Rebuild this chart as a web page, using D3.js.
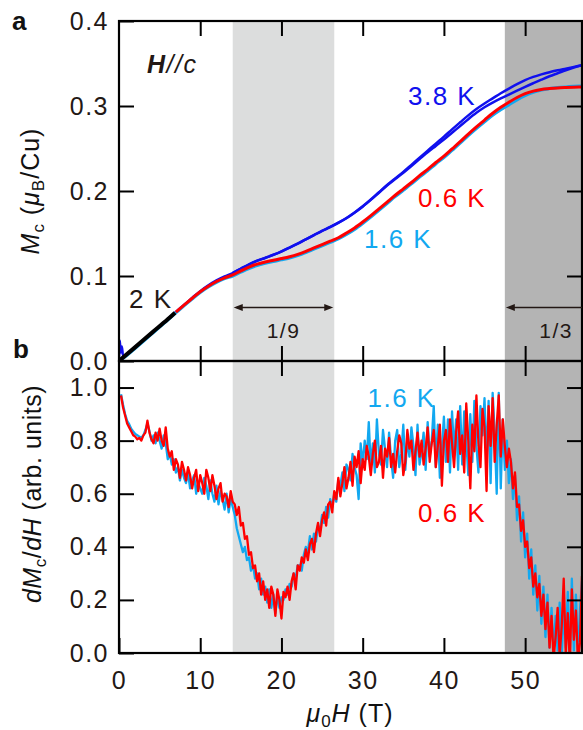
<!DOCTYPE html>
<html><head><meta charset="utf-8">
<script src="https://cdn.jsdelivr.net/npm/d3@7"></script>
<style>
body{margin:0;background:#fff}
svg text{font-family:"Liberation Sans",Arial,Helvetica,sans-serif;fill:#231815}
</style>
</head><body><svg id="c" width="583" height="730"></svg>
<script>
// ---------- data ----------
const xTicks = [0, 10, 20, 30, 40, 50];
const yTicksA = [0, 0.1, 0.2, 0.3, 0.4];
const yTicksB = [0, 0.2, 0.4, 0.6, 0.8, 1.0];
const bandLight = [14, 26.5];   // 1/9 plateau
const bandDark = [47.5, 57];    // 1/3 plateau

// panel a : M (muB/Cu) vs field (T)
const m2K = [[0,0],[2,0.0163],[4,0.0328],[6,0.0490],[6.9,0.0568]];
const m06K = [[7,0.0576],[8,0.0657],[9,0.0738],[10,0.0815],[11,0.0880],[12,0.0935],[13,0.0978],[14,0.1012],[15,0.1060],[16,0.1105],[17,0.1140],[18,0.1165],[19,0.1185],[20,0.1205],[21,0.1227],[22,0.1255],[23,0.1290],[24,0.1330],[25,0.1370],[26,0.1410],[27,0.1450],[28,0.1505],[29,0.1565],[30,0.1635],[31,0.1710],[32,0.1790],[33,0.1870],[34,0.1950],[35,0.2025],[36,0.2100],[37,0.2180],[38,0.2255],[39,0.2335],[40,0.2410],[41,0.2495],[42,0.2580],[43,0.2670],[44,0.2755],[45,0.2835],[46,0.2915],[47,0.2985],[48,0.3045],[49,0.3100],[50,0.3145],[51,0.3175],[52,0.3195],[53,0.3205],[54,0.3213],[55,0.3218],[56,0.3222],[57,0.3225]];
const m16K = [[0,0],[1,0.0068],[2,0.0150],[3,0.0232],[4,0.0315],[5,0.0398],[6,0.0482],[7,0.0565],[8,0.0648],[9,0.0728],[10,0.0805],[11,0.0870],[12,0.0925],[13,0.0968],[14,0.1000],[15,0.1045],[16,0.1088],[17,0.1122],[18,0.1148],[19,0.1170],[20,0.1190],[21,0.1212],[22,0.1240],[23,0.1275],[24,0.1315],[25,0.1355],[26,0.1395],[27,0.1435],[28,0.1488],[29,0.1548],[30,0.1618],[31,0.1693],[32,0.1773],[33,0.1853],[34,0.1933],[35,0.2008],[36,0.2083],[37,0.2163],[38,0.2238],[39,0.2318],[40,0.2393],[41,0.2478],[42,0.2563],[43,0.2652],[44,0.2735],[45,0.2813],[46,0.2890],[47,0.2955],[48,0.3013],[49,0.3072],[50,0.3122],[51,0.3160],[52,0.3188],[53,0.3205],[54,0.3217],[55,0.3225],[56,0.3231],[57,0.3236]];
const m38Kup = [[0,0],[0.1,0.024],[0.2,0.010],[0.35,0.017],[0.5,0.006],[1,0.0085],[2,0.0165],[3,0.0245],[4,0.0328],[5,0.0410],[6,0.0493],[7,0.0578],[8,0.0660],[9,0.0742],[10,0.0822],[11,0.0890],[12,0.0948],[13,0.0995],[14,0.1035],[15,0.1085],[16,0.1135],[17,0.1178],[18,0.1212],[19,0.1248],[20,0.1288],[21,0.1333],[22,0.1380],[23,0.1430],[24,0.1480],[25,0.1530],[26,0.1575],[27,0.1625],[28,0.1680],[29,0.1745],[30,0.1815],[31,0.1895],[32,0.1980],[33,0.2065],[34,0.2140],[35,0.2215],[36,0.2295],[37,0.2375],[38,0.2455],[39,0.2530],[40,0.2605],[41,0.2685],[42,0.2765],[43,0.2845],[44,0.2920],[45,0.2985],[46,0.3040],[47,0.3090],[48,0.3135],[49,0.3180],[50,0.3225],[51,0.3268],[52,0.3310],[53,0.3350],[54,0.3385],[55,0.3420],[56,0.3452],[57,0.3480]];
const m38Kdown = [[14,0.1037],[15,0.1087],[16,0.1137],[17,0.1180],[18,0.1214],[19,0.1250],[20,0.1290],[21,0.1335],[22,0.1382],[23,0.1432],[24,0.1482],[25,0.1532],[26,0.1578],[27,0.1628],[28,0.1683],[29,0.1748],[30,0.1820],[31,0.1900],[32,0.1985],[33,0.2070],[34,0.2148],[35,0.2225],[36,0.2308],[37,0.2392],[38,0.2475],[39,0.2558],[40,0.2640],[41,0.2725],[42,0.2808],[43,0.2890],[44,0.2965],[45,0.3030],[46,0.3090],[47,0.3150],[48,0.3205],[49,0.3258],[50,0.3305],[51,0.3342],[52,0.3372],[53,0.3398],[54,0.3420],[55,0.3440],[56,0.3460],[57,0.3480]];

// panel b : dM/dH (arb. units), sampled every 0.25 T from 0.25 T to 57 T (one group of four per tesla)
const fieldStepB = 0.25;
const dmdh06K = [
 0.97,0.925,0.895,0.865, 0.85,0.835,0.82,0.815, 0.805,0.81,0.80,0.82, 0.83,0.875,0.83,0.805,
 0.79,0.83,0.80,0.845, 0.80,0.78,0.85,0.77, 0.74,0.76,0.69,0.73, 0.71,0.66,0.72,0.69,
 0.65,0.70,0.67,0.62, 0.66,0.69,0.61,0.67, 0.64,0.60,0.69,0.66, 0.61,0.67,0.63,0.58,
 0.62,0.64,0.57,0.60, 0.59,0.55,0.61,0.57, 0.56,0.52,0.55,0.48, 0.49,0.43,0.44,0.37,
 0.38,0.32,0.33,0.27, 0.30,0.22,0.27,0.20, 0.24,0.17,0.25,0.22, 0.14,0.24,0.20,0.13,
 0.23,0.21,0.25,0.20, 0.27,0.30,0.24,0.33, 0.31,0.36,0.34,0.39, 0.35,0.41,0.43,0.38,
 0.45,0.49,0.44,0.50, 0.53,0.48,0.56,0.57, 0.53,0.61,0.58,0.66, 0.59,0.64,0.70,0.62,
 0.66,0.72,0.63,0.74, 0.70,0.76,0.64,0.73, 0.69,0.78,0.74,0.67, 0.75,0.80,0.70,0.72,
 0.78,0.66,0.77,0.74, 0.81,0.70,0.75,0.68, 0.76,0.82,0.79,0.67, 0.72,0.84,0.77,0.80,
 0.69,0.76,0.83,0.74, 0.80,0.71,0.77,0.85, 0.72,0.79,0.84,0.70, 0.78,0.86,0.63,0.80,
 0.84,0.72,0.88,0.79, 0.70,0.83,0.91,0.75, 0.82,0.68,0.94,0.80, 0.62,0.86,0.76,0.97,
 0.79,0.70,0.92,0.85, 0.61,0.93,0.78,0.96, 0.72,0.86,0.97,0.74, 0.88,0.78,0.70,0.77,
 0.72,0.62,0.68,0.55, 0.56,0.46,0.50,0.40, 0.42,0.32,0.36,0.25, 0.30,0.21,0.26,0.14,
 0.22,0.09,0.19,0.02, 0.14,-0.02,0.06,0.17, -0.01,0.10,0.28,0.00, 0.15,-0.04,0.24,0.05,
 0.16,-0.03,0.04,0.29
];
const dmdh16K = [
 0.975,0.935,0.90,0.875, 0.862,0.845,0.835,0.825, 0.82,0.815,0.812,0.82, 0.84,0.865,0.835,0.80,
 0.82,0.79,0.83,0.80, 0.77,0.82,0.79,0.73, 0.75,0.71,0.73,0.68, 0.70,0.65,0.69,0.66,
 0.64,0.68,0.62,0.65, 0.67,0.60,0.64,0.62, 0.60,0.66,0.63,0.58, 0.65,0.60,0.57,0.63,
 0.56,0.61,0.58,0.54, 0.60,0.53,0.58,0.55, 0.52,0.47,0.44,0.41, 0.38,0.40,0.35,0.36,
 0.31,0.33,0.28,0.30, 0.24,0.28,0.22,0.25, 0.19,0.24,0.17,0.22, 0.15,0.22,0.17,0.21,
 0.20,0.24,0.22,0.26, 0.25,0.30,0.28,0.33, 0.33,0.31,0.37,0.40, 0.38,0.44,0.39,0.45,
 0.42,0.48,0.46,0.52, 0.49,0.55,0.51,0.58, 0.55,0.60,0.57,0.65, 0.63,0.68,0.61,0.71,
 0.69,0.65,0.75,0.70, 0.67,0.58,0.79,0.71, 0.80,0.73,0.87,0.70, 0.79,0.68,0.88,0.75,
 0.71,0.84,0.77,0.70, 0.83,0.73,0.66,0.80, 0.84,0.70,0.75,0.86, 0.69,0.81,0.74,0.85,
 0.78,0.67,0.86,0.71, 0.76,0.83,0.69,0.87, 0.74,0.80,0.93,0.70, 0.86,0.66,0.77,0.89,
 0.72,0.88,0.68,0.91, 0.76,0.88,0.69,0.93, 0.71,0.91,0.80,0.67, 0.90,0.72,0.95,0.78,
 0.68,0.93,0.82,0.96, 0.72,0.95,0.64,0.98, 0.83,0.60,0.98,0.62, 0.88,0.69,0.80,0.64,
 0.73,0.58,0.67,0.50, 0.59,0.42,0.53,0.36, 0.45,0.28,0.39,0.22, 0.33,0.16,0.29,0.11,
 0.25,0.06,0.22,0.02, 0.17,0.00,0.14,0.01, 0.19,-0.01,0.16,0.02, 0.23,-0.02,0.28,0.01,
 0.22,-0.01,0.16,0.27
];

// ---------- drawing ----------
const C = {blue:"#1010ee", cyan:"#12a8f0", red:"#ff0000", ink:"#231815", light:"#dcdddd", dark:"#b4b4b4"};
const L = 119, R = 582, TOPA = 21, BOTA = 361, BOTB = 653;
const svg = d3.select("#c");
const x = d3.scaleLinear().domain([0, 57]).range([L, R]);
const yA = d3.scaleLinear().domain([0, 0.4]).range([BOTA, TOPA]);
const yB = d3.scaleLinear().domain([0, 1.1]).range([BOTB, BOTA]);

// shaded field regions
svg.append("rect").attr("x", x(bandLight[0])).attr("y", TOPA)
  .attr("width", x(bandLight[1]) - x(bandLight[0])).attr("height", BOTB - TOPA).attr("fill", C.light);
svg.append("rect").attr("x", x(bandDark[0])).attr("y", TOPA)
  .attr("width", x(bandDark[1]) - x(bandDark[0])).attr("height", BOTB - TOPA).attr("fill", C.dark);

const defs = svg.append("defs");
defs.append("clipPath").attr("id", "clipA").append("rect")
  .attr("x", L).attr("y", TOPA).attr("width", R - L).attr("height", BOTA - TOPA);
defs.append("clipPath").attr("id", "clipB").append("rect")
  .attr("x", L).attr("y", BOTA).attr("width", R - L).attr("height", BOTB - BOTA);

// panel a curves
const lineA = d3.line().x(d => x(d[0])).y(d => yA(d[1])).curve(d3.curveMonotoneX);
const gA = svg.append("g").attr("clip-path", "url(#clipA)");
[[m38Kup, C.blue, 2.5], [m38Kdown, C.blue, 2.5], [m16K, C.cyan, 3], [m06K, C.red, 3], [m2K, "#000", 4]]
  .forEach(([d, col, w]) => gA.append("path").datum(d).attr("d", lineA)
    .attr("fill", "none").attr("stroke", col).attr("stroke-width", w).attr("stroke-linejoin", "round"));

// panel b curves
const fieldB = d3.range(1, dmdh06K.length + 1).map(i => i * fieldStepB);
const lineB = d3.line().x((d, i) => x(fieldB[i])).y(d => yB(d));
const gB = svg.append("g").attr("clip-path", "url(#clipB)");
[[dmdh16K, C.cyan], [dmdh06K, C.red]].forEach(([d, col]) =>
  gB.append("path").datum(d).attr("d", lineB).attr("fill", "none")
    .attr("stroke", col).attr("stroke-width", 2.3).attr("stroke-linejoin", "round"));

// axes
const TK = 15, fmt = d3.format(".1f");
function styleAxis(g) {
  g.select(".domain").remove();
  g.selectAll(".tick line").attr("stroke", "#000").attr("stroke-width", 2);
  g.selectAll(".tick text").attr("fill", "#111").style("font-size", "25px").style("letter-spacing", "1.5px");
}
const inner = xTicks.filter(v => v > 0);
svg.append("g").attr("transform", `translate(${L},0)`)
  .call(d3.axisLeft(yA).tickValues(yTicksA).tickFormat(fmt).tickSizeInner(-TK).tickSizeOuter(0).tickPadding(10)).call(styleAxis);
svg.append("g").attr("transform", `translate(${R},0)`)
  .call(d3.axisRight(yA).tickValues(yTicksA.slice(1, -1)).tickFormat("").tickSizeInner(-TK).tickSizeOuter(0)).call(styleAxis);
svg.append("g").attr("transform", `translate(0,${TOPA})`)
  .call(d3.axisTop(x).tickValues(inner).tickFormat("").tickSizeInner(-TK).tickSizeOuter(0)).call(styleAxis);
svg.append("g").attr("transform", `translate(0,${BOTA})`)
  .call(d3.axisBottom(x).tickValues(inner).tickFormat("").tickSizeInner(-TK).tickSizeOuter(0)).call(styleAxis);
svg.append("g").attr("transform", `translate(0,${BOTA})`)
  .call(d3.axisTop(x).tickValues(inner).tickFormat("").tickSizeInner(-TK).tickSizeOuter(0)).call(styleAxis);
svg.append("g").attr("transform", `translate(${L},0)`)
  .call(d3.axisLeft(yB).tickValues(yTicksB).tickFormat(fmt).tickSizeInner(-TK).tickSizeOuter(0).tickPadding(10)).call(styleAxis);
svg.append("g").attr("transform", `translate(${R},0)`)
  .call(d3.axisRight(yB).tickValues(yTicksB.slice(1)).tickFormat("").tickSizeInner(-TK).tickSizeOuter(0)).call(styleAxis);
svg.append("g").attr("transform", `translate(0,${BOTB})`)
  .call(d3.axisBottom(x).tickValues(xTicks).tickFormat(d3.format("d")).tickSizeInner(-TK).tickSizeOuter(0).tickPadding(18)).call(styleAxis);

// frames
[[TOPA, BOTA], [BOTA, BOTB]].forEach(([t, b]) =>
  svg.append("rect").attr("x", L).attr("y", t).attr("width", R - L).attr("height", b - t)
    .attr("fill", "none").attr("stroke", "#000").attr("stroke-width", 2.2));

// arrows for plateaus
const ay = 307.5;
function head(px, dir) { // dir -1 points left, +1 points right
  svg.append("path").attr("d", `M${px},${ay} L${px - dir * 9},${ay - 3.5} L${px - dir * 9},${ay + 3.5} Z`).attr("fill", C.ink);
}
svg.append("line").attr("x1", x(bandLight[0]) + 4).attr("x2", x(bandLight[1]) - 4).attr("y1", ay).attr("y2", ay)
  .attr("stroke", C.ink).attr("stroke-width", 1.5);
head(x(bandLight[0]) + 1, -1); head(x(bandLight[1]) - 1, 1);
svg.append("line").attr("x1", x(bandDark[0]) + 4).attr("x2", R).attr("y1", ay).attr("y2", ay)
  .attr("stroke", C.ink).attr("stroke-width", 1.5);
head(x(bandDark[0]) + 1, -1);

function txt(s, px, py, size, col, anchor, extra) {
  const t = svg.append("text").attr("x", px).attr("y", py).text(s)
    .style("font-size", size + "px").style("fill", col).attr("text-anchor", anchor || "start")
    .style("letter-spacing", "1.5px");
  if (extra) extra(t);
  return t;
}
txt("1/9", (x(bandLight[0]) + x(bandLight[1])) / 2, 337.5, 21, C.ink, "middle");
txt("1/3", R - 9, 337.5, 21, C.ink, "end");

// series labels
txt("3.8 K", 408, 105, 26, C.blue);
txt("0.6 K", 418, 206.5, 26, C.red);
txt("1.6 K", 364, 248, 26, C.cyan);
txt("2 K", 129, 307.5, 26, C.ink);
txt("1.6 K", 367.5, 406.5, 26, C.cyan);
txt("0.6 K", 418, 521.5, 26, C.red);

// panel letters
txt("a", 12, 30, 26, "#111", "start", t => t.style("font-weight", "bold").style("letter-spacing", "0"));
txt("b", 13, 358, 26, "#111", "start", t => t.style("font-weight", "bold").style("letter-spacing", "0"));

// H//c
const hc = svg.append("text").attr("x", 147).attr("y", 73).style("font-size", "25px").style("letter-spacing", "1.5px").style("font-style", "italic");
hc.append("tspan").style("font-weight", "bold").text("H");
hc.append("tspan").text("//c");

// axis titles
function rich(t, parts) {
  parts.forEach(p => {
    const s = t.append("tspan").text(p.t);
    if (p.i) s.style("font-style", "italic");
    if (p.sub) s.attr("dy", 5).style("font-size", "17px");
    if (p.up) s.attr("dy", -5);
  });
}
const xt = svg.append("text").attr("x", 350).attr("y", 722).attr("text-anchor", "middle")
  .style("font-size", "25px").style("fill", "#111").style("letter-spacing", "1px");
rich(xt, [{t: "μ", i: 1}, {t: "0", sub: 1}, {t: "H", i: 1, up: 1}, {t: " (T)"}]);

const ya = svg.append("text").attr("transform", "translate(38.5,191) rotate(-90)").attr("text-anchor", "middle")
  .style("font-size", "25px").style("fill", "#111").style("letter-spacing", "1px");
rich(ya, [{t: "M", i: 1}, {t: "c", sub: 1}, {t: " (", up: 1}, {t: "μ", i: 1}, {t: "B", sub: 1}, {t: "/Cu)", up: 1}]);

const yb = svg.append("text").attr("transform", "translate(41,494) rotate(-90)").attr("text-anchor", "middle")
  .style("font-size", "25px").style("fill", "#111").style("letter-spacing", "0.5px");
rich(yb, [{t: "dM", i: 1}, {t: "c", sub: 1}, {t: "/", up: 1}, {t: "dH", i: 1}, {t: " (arb. units)"}]);
</script>
</body></html>
